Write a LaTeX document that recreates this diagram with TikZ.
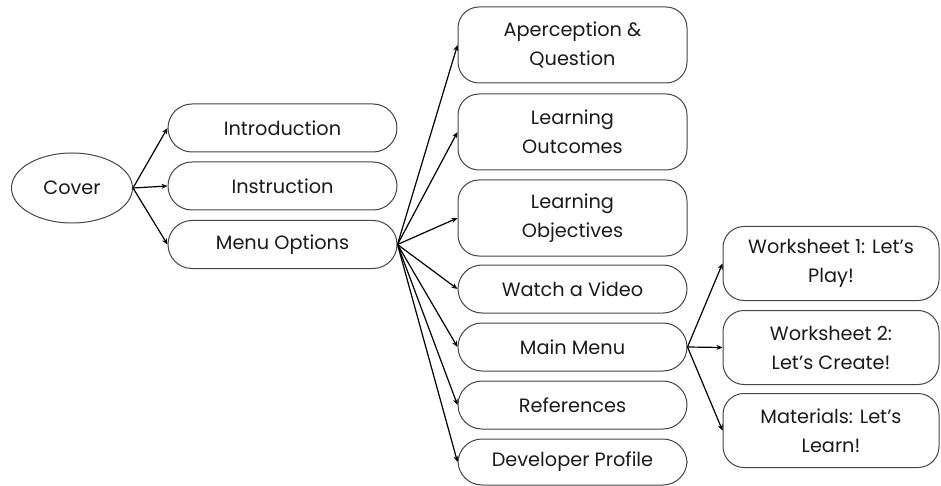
\documentclass[tikz,border=0pt]{standalone}
\usepackage{fontspec}
\setmainfont{Poppins}
\usetikzlibrary{shapes.geometric,arrows.meta}
\definecolor{boxline}{HTML}{454545}
\definecolor{labeltext}{HTML}{1A1A1A}
\begin{document}
\begin{tikzpicture}[x=1pt,y=-1pt,
  every node/.style={text=labeltext, font=\fontsize{19.3}{29}\selectfont, align=center, inner sep=0pt},
  pill/.style={draw=boxline, line width=1pt, rounded corners=24pt, minimum width=229pt, minimum height=48pt},
  tallbox/.style={draw=boxline, line width=1pt, rounded corners=21pt, minimum width=229pt, minimum height=76pt},
  sidebox/.style={draw=boxline, line width=1pt, rounded corners=21pt, minimum width=216pt, minimum height=74pt},
  oval/.style={draw=boxline, line width=1pt, ellipse, minimum width=121pt, minimum height=70pt},
  link/.style={draw=black, line width=1.2pt, -{Stealth[length=6pt,width=5pt]}}
]
\useasboundingbox (0,0) rectangle (941,486);

% root
\node[oval] (cover) at (72,188) {Cover};

% first level
\node[pill] (intro) at (282.5,128) {Introduction};
\node[pill] (instr) at (282.5,186) {Instruction};
\node[pill] (menuopt) at (282.5,244.5) {Menu Options};

% menu options
\node[tallbox] (aper) at (572.5,45) {Aperception \&\\Question};
\node[tallbox] (outc) at (572.5,132) {Learning\\Outcomes};
\node[tallbox] (obj) at (572.5,218) {Learning\\Objectives};
\node[pill] (video) at (572.5,289) {Watch a Video};
\node[pill] (mainm) at (572.5,347) {Main Menu};
\node[pill] (refs) at (572.5,405) {References};
\node[pill, minimum height=46pt] (dev) at (572.5,462) {Developer Profile};

% main menu
\node[sidebox] (ws1) at (831,263.5) {Worksheet 1: Let's\\Play!};
\node[sidebox] (ws2) at (831,347.5) {Worksheet 2:\\Let's Create!};
\node[sidebox] (mat) at (831,430.5) {Materials: Let's\\Learn!};

% connectors
\foreach \t in {intro,instr,menuopt}
  \draw[link] (cover.east) -- (\t.west);
\foreach \t in {aper,outc,obj,video,mainm,refs,dev}
  \draw[link] (menuopt.east) -- (\t.west);
\foreach \t in {ws1,ws2,mat}
  \draw[link] (mainm.east) -- (\t.west);
\end{tikzpicture}
\end{document}
